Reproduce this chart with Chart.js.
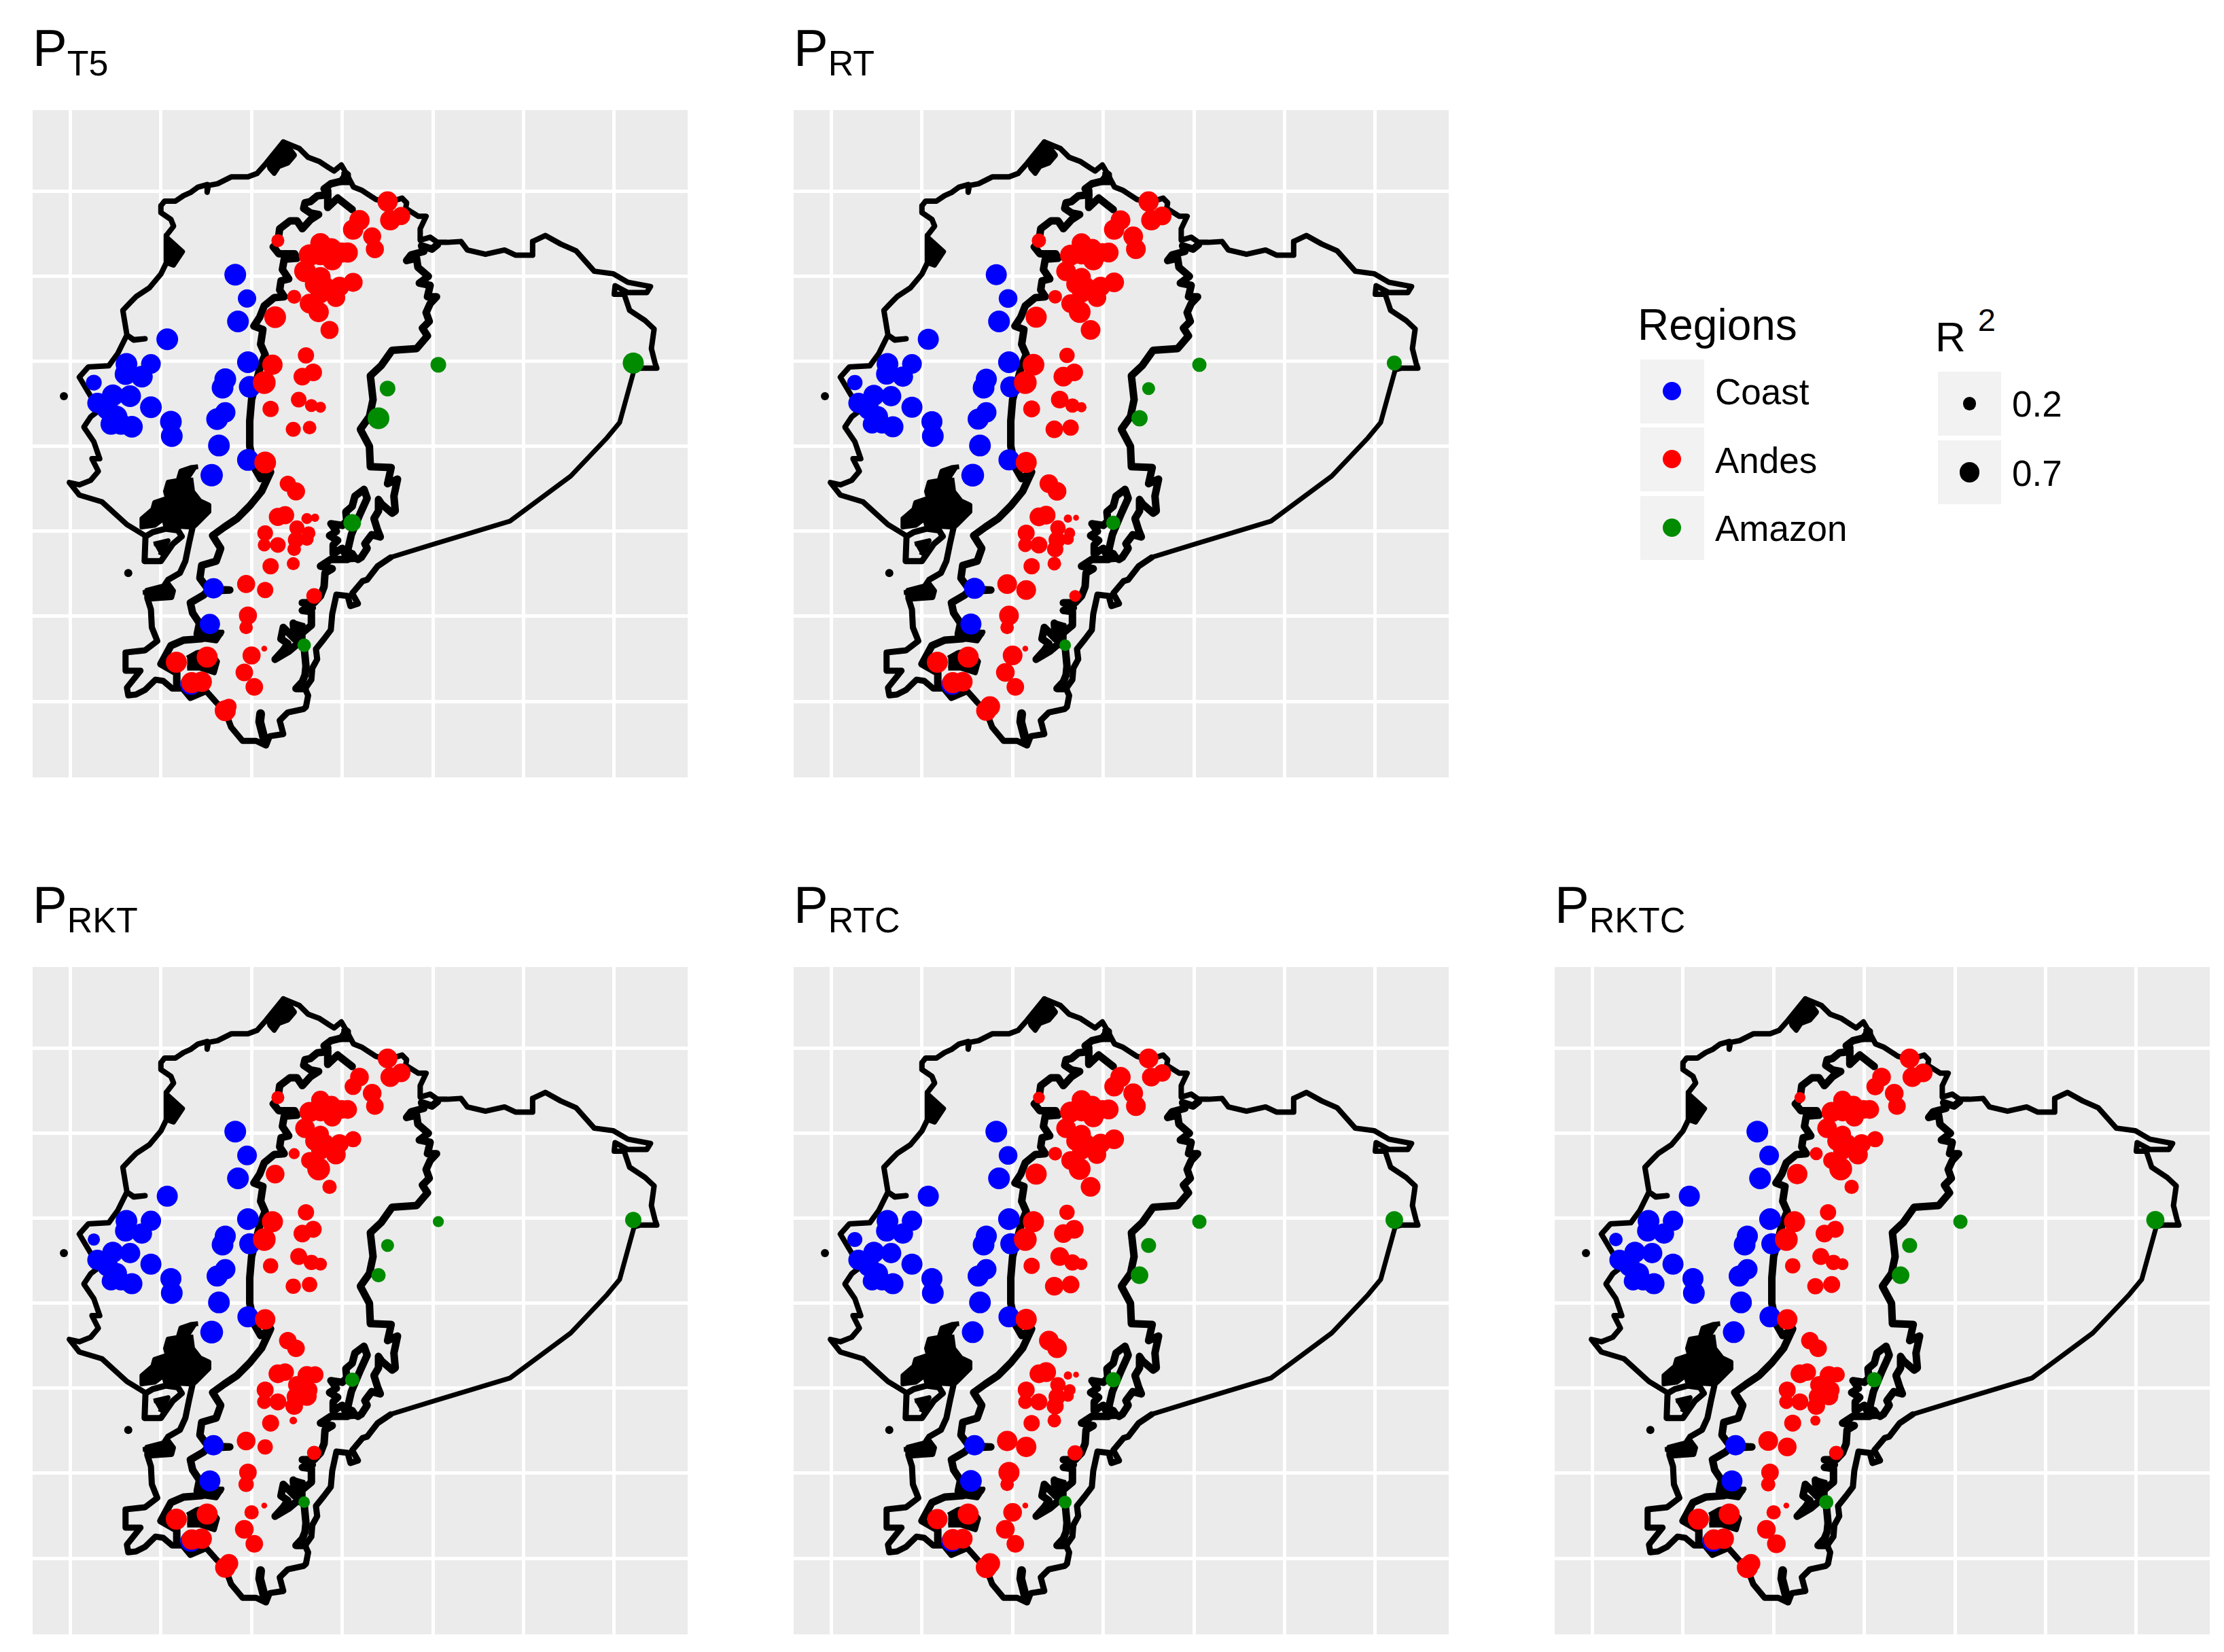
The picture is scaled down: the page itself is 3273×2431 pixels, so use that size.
<!DOCTYPE html>
<html><head><meta charset="utf-8">
<script src="https://cdn.jsdelivr.net/npm/chart.js@4"></script>
<style>
html,body{margin:0;padding:0;background:#fff;width:3273px;height:2431px;overflow:hidden;font-family:"Liberation Sans",Arial,sans-serif;color:#000}
canvas{position:absolute;display:block}
.t{position:absolute;line-height:1;white-space:nowrap}
.k{position:absolute;background:#F2F2F2}
.d{position:absolute;border-radius:50%}
</style></head><body>
<script>
// Panel titles (label, subscript)
const panelSubs=["T5","RT","RKT","RTC","RKTC"];
const regionNames=["Coast","Andes","Amazon"];
const r2Labels=["0.2","0.7"];
const r2Values=[0.2,0.7];
const lonTicks=[-81,-80,-79,-78,-77,-76,-75];
const latTicks=[1,0,-1,-2,-3,-4,-5];

// Stations: longitude, latitude
const coastLon=[-79.18,-79.05,-79.15,-79.93,-80.38,-80.11,-80.39,-80.21,-80.74,-79.04,-79.29,-79.32,-79.02,-80.53,-80.34,-80.70,-80.11,-80.59,-80.49,-80.55,-80.32,-80.44,-79.89,-79.88,-79.29,-79.38,-79.36,-79.04,-79.44,-79.42,-79.46,-79.67];
const coastLat=[0.02,-0.26,-0.53,-0.74,-1.03,-1.03,-1.15,-1.18,-1.25,-1.01,-1.21,-1.31,-1.30,-1.40,-1.41,-1.49,-1.54,-1.56,-1.65,-1.74,-1.77,-1.74,-1.71,-1.88,-1.60,-1.68,-1.99,-2.16,-2.34,-3.67,-4.09,-4.80];
const andesLon=[-77.50,-77.35,-77.47,-77.81,-77.88,-77.67,-77.64,-78.71,-78.24,-78.12,-77.94,-78.36,-78.24,-78.11,-78.01,-78.41,-78.24,-77.88,-78.30,-78.03,-78.19,-78.24,-78.07,-78.53,-78.36,-78.26,-78.14,-78.74,-78.40,-78.77,-78.32,-78.44,-78.86,-78.48,-78.34,-78.24,-78.79,-78.54,-78.36,-78.85,-78.60,-78.51,-78.71,-78.63,-78.39,-78.30,-78.50,-78.37,-78.85,-78.39,-78.51,-78.86,-78.71,-78.53,-78.79,-78.54,-79.06,-78.85,-78.31,-79.04,-79.06,-78.86,-79.00,-79.49,-79.83,-79.08,-79.55,-79.66,-78.97,-79.29,-79.25];
const andesLat=[0.88,0.71,0.66,0.66,0.55,0.47,0.32,0.42,0.39,0.33,0.28,0.25,0.25,0.19,0.28,0.06,-0.01,-0.07,-0.09,-0.12,-0.12,-0.20,-0.25,-0.24,-0.32,-0.42,-0.63,-0.48,-0.93,-1.04,-1.13,-1.18,-1.25,-1.45,-1.52,-1.54,-1.56,-1.80,-1.78,-2.19,-2.44,-2.53,-2.83,-2.81,-2.85,-2.84,-2.96,-3.02,-3.02,-3.09,-3.10,-3.16,-3.16,-3.21,-3.41,-3.38,-3.62,-3.69,-3.76,-3.99,-4.13,-4.38,-4.46,-4.48,-4.54,-4.66,-4.77,-4.78,-4.83,-5.11,-5.06];
const amazonLon=[-76.94,-77.50,-77.60,-77.89,-74.79,-78.42];
const amazonLat=[-1.04,-1.32,-1.67,-2.90,-1.02,-4.34];

// R2 by panel
const coastT5=[.84,.52,.84,.84,.84,.64,.84,.84,.33,.84,.84,.84,.84,.84,.84,.70,.84,.84,.84,.77,.84,.77,.84,.84,.70,.84,.84,.84,.91,.70,.70,.77];
const coastRT=[.77,.55,.84,.77,.84,.64,.77,.70,.30,.84,.77,.84,.77,.77,.70,.70,.77,.77,.77,.55,.77,.55,.77,.84,.70,.77,.84,.77,.95,.77,.77,.77];
const coastRKT=[.84,.64,.84,.77,.84,.70,.77,.70,.14,.84,.77,.84,.77,.77,.70,.70,.77,.77,.77,.55,.77,.55,.77,.84,.70,.77,.84,.77,.95,.70,.77,.77];
const coastRTC=[.84,.55,.84,.77,.84,.70,.77,.70,.28,.84,.77,.84,.77,.77,.70,.70,.77,.77,.77,.55,.77,.55,.77,.84,.70,.77,.84,.77,.84,.70,.84,.77];
const coastRKTC=[.84,.64,.84,.77,.84,.70,.77,.70,.20,.84,.77,.84,.77,.77,.70,.70,.77,.77,.77,.55,.77,.55,.77,.84,.70,.77,.84,.77,.84,.70,.77,.77];
const andesT5=[.70,.50,.70,.70,.70,.50,.50,.17,.70,.70,.70,.84,.70,.70,.70,.84,.70,.58,.70,.64,.64,.64,.55,.22,.64,.70,.50,.84,.36,.70,.46,.46,.95,.32,.17,.09,.36,.28,.20,.84,.36,.50,.50,.50,.09,.02,.28,.20,.32,.20,.36,.17,.32,.20,.36,.17,.50,.36,.32,.50,.20,.00,.50,.77,.77,.46,.70,.77,.46,.77,.30];
const andesRT=[.70,.55,.70,.64,.70,.64,.64,.24,.64,.55,.64,.77,.55,.70,.55,.64,.55,.64,.64,.64,.55,.55,.55,.20,.55,.84,.64,.77,.30,.84,.46,.64,.95,.46,.24,.06,.41,.46,.36,.77,.55,.55,.55,.55,.02,.00,.30,.09,.41,.12,.41,.24,.41,.36,.36,.20,.64,.64,.12,.64,.20,.00,.64,.77,.77,.55,.64,.77,.46,.70,.70];
const andesRKT=[.64,.55,.64,.55,.41,.55,.46,.17,.55,.55,.55,.70,.55,.55,.55,.64,.41,.36,.64,.55,.55,.55,.64,.09,.41,.95,.24,.55,.36,.77,.41,.46,.95,.41,.30,.17,.30,.30,.30,.70,.46,.46,.55,.46,.55,.41,.46,.46,.41,.64,.55,.24,.41,.46,.41,.01,.55,.30,.24,.46,.30,.00,.24,.77,.77,.55,.70,.70,.46,.70,.55];
const andesRTC=[.64,.46,.55,.70,.64,.64,.64,.12,.64,.55,.64,.77,.55,.70,.55,.64,.55,.64,.64,.64,.55,.55,.55,.20,.55,.84,.64,.77,.30,.77,.55,.55,.95,.55,.36,.12,.36,.55,.46,.77,.64,.64,.55,.64,.02,.00,.30,.12,.41,.12,.41,.24,.41,.41,.36,.20,.70,.70,.30,.77,.20,.00,.55,.77,.70,.55,.64,.77,.46,.77,.70];
const andesRKTC=[.64,.55,.64,.55,.46,.55,.46,.09,.55,.55,.55,.70,.55,.55,.55,.64,.41,.36,.64,.55,.55,.55,.64,.17,.41,.95,.24,.70,.36,.77,.41,.46,.95,.41,.30,.12,.30,.36,.41,.70,.46,.46,.55,.46,.55,.30,.46,.46,.41,.55,.55,.24,.41,.46,.41,.06,.64,.55,.24,.46,.24,.00,.24,.77,.77,.55,.70,.70,.55,.77,.55];
const amazonT5=[.32,.32,.84,.46,.77,.20];
const amazonRT=[.24,.17,.36,.24,.28,.11];
const amazonRKT=[.09,.17,.24,.24,.36,.11];
const amazonRTC=[.24,.28,.46,.28,.46,.17];
const amazonRKTC=[.24,.28,.46,.28,.50,.24];

// Map outlines: lon, lat pairs
const westCoast=[-78.65,1.58,-78.84,1.33,-78.94,1.21,-79.04,1.17,-79.225,1.17,-79.375,1.09,-79.475,1.07,-79.49,.99,-79.49,1.08,-79.59,1.05,-79.675,.985,-79.75,.95,-79.84,.885,-79.96,.885,-80.00,.83,-80.00,.75,-79.89,.67,-79.86,.59,-79.94,.48,-79.94,.16,-80.00,.027,-80.125,-.133,-80.27,-.235,-80.33,-.30,-80.42,-.40,-80.375,-.69,-80.30,-.745,-80.175,-.735,-80.30,-.75,-80.375,-.69,-80.475,-.906,-80.575,-1.053,-80.80,-1.066,-80.90,-1.186,-80.775,-1.41,-80.65,-1.55,-80.775,-1.653,-80.85,-1.773,-80.74,-1.946,-80.675,-2.146,-80.76,-2.146,-80.69,-2.293,-80.775,-2.40,-80.90,-2.453,-81.01,-2.426,-80.90,-2.573,-80.65,-2.653,-80.375,-2.92,-80.175,-3.05];
const gulfLoop=[-80.17,-3.06,-80.18,-3.35,-80.00,-3.35,-79.87,-3.15,-79.77,-3.06,-79.81,-2.99,-79.95,-2.97,-80.09,-3.01,-80.17,-3.06];
const gulfIsland=[-80.08,-3.15,-79.92,-3.11,-80.01,-3.28];
const gulfBlob=[-79.59,-2.24,-79.67,-2.25,-79.78,-2.29,-79.81,-2.40,-79.92,-2.42,-79.95,-2.53,-79.93,-2.61,-80.07,-2.66,-80.09,-2.74,-80.21,-2.85,-80.21,-2.95,-80.07,-2.93,-79.97,-2.85,-79.95,-2.93,-79.67,-2.95,-79.62,-2.93,-79.47,-2.77,-79.47,-2.69,-79.57,-2.64,-79.62,-2.57,-79.65,-2.53,-79.67,-2.37];
const southLine=[-79.65,-2.95,-79.69,-3.14,-79.73,-3.35,-79.79,-3.49,-79.92,-3.57,-79.97,-3.65,-80.15,-3.70,-80.15,-3.785,-80.11,-3.92,-80.10,-4.13,-80.04,-4.29,-80.175,-4.40,-80.26,-4.41,-80.39,-4.425,-80.39,-4.64,-80.225,-4.64,-80.375,-4.84,-80.36,-4.93,-80.275,-4.92,-80.175,-4.865,-80.06,-4.745,-79.975,-4.76,-79.875,-4.85,-79.76,-4.85,-79.675,-4.96,-79.50,-4.88,-79.40,-5.00,-79.29,-5.12,-79.225,-5.305,-79.10,-5.465,-78.95,-5.465,-78.84,-5.52,-78.80,-5.41,-78.65,-5.385,-78.69,-5.225,-78.60,-5.13,-78.425,-5.09,-78.40,-5.065,-78.376,-4.93,-78.41,-4.85,-78.34,-4.745,-78.33,-4.61,-78.276,-4.505,-78.29,-4.385,-78.20,-4.265,-78.126,-4.16,-78.11,-3.97,-78.064,-3.745,-77.94,-3.76,-77.91,-3.88,-77.826,-3.85,-77.89,-3.73,-77.776,-3.585,-77.726,-3.57,-77.61,-3.41,-77.465,-3.306];
const zamoraLine=[-78.42,-4.36,-78.40,-4.585,-78.41,-4.69,-78.44,-4.77,-78.51,-4.85,-78.41,-4.85];
const longEast=[-77.465,-3.306,-76.977,-3.146,-76.15,-2.88,-75.48,-2.35,-75.08,-1.90,-74.94,-1.72,-74.78,-1.10];
const northEast=[-74.78,-1.10,-74.71,-1.08,-74.53,-1.08,-74.55,-1.02,-74.59,-.85,-74.56,-.62,-74.66,-.52,-74.83,-.40,-74.89,-.21,-75.00,-.21,-74.99,-.11,-74.85,-.19,-74.64,-.19,-74.60,-.12,-74.85,-.07,-75.01,.03,-75.22,.06,-75.42,.30,-75.59,.38,-75.76,.48,-75.90,.41,-75.90,.25,-76.09,.25,-76.21,.31,-76.42,.26,-76.62,.31,-76.69,.41,-76.84,.40,-76.95,.40,-77.03,.46,-77.14,.426,-77.14,.56,-77.075,.706,-77.16,.706,-77.30,.80,-77.29,.866,-77.34,.92,-77.50,.866,-77.63,.906,-77.78,1.01,-77.875,1.05,-77.95,1.20,-78.01,1.31,-78.09,1.24,-78.15,1.28,-78.25,1.35,-78.375,1.40,-78.475,1.505,-78.65,1.58];
const peakWedge=[-78.625,1.57,-78.525,1.425,-78.60,1.33,-78.70,1.29,-78.75,1.21,-78.80,1.27,-78.825,1.36];
const westWedge=[-79.925,.45,-79.76,.29,-79.86,.13,-79.94,.16];
const westAndes=[-77.95,1.20,-78.01,1.12,-78.125,1.09,-78.20,1.03,-78.16,.96,-78.275,.946,-78.35,.88,-78.41,.866,-78.425,.80,-78.35,.746,-78.26,.728,-78.35,.666,-78.44,.56,-78.50,.653,-78.575,.653,-78.69,.56,-78.70,.48,-78.71,.40,-78.76,.346,-78.70,.266,-78.525,.266,-78.50,.213,-78.64,.20,-78.66,.08,-78.59,-.03,-78.675,-.053,-78.69,-.16,-78.64,-.24,-78.75,-.25,-78.86,-.346,-78.91,-.48,-78.975,-.586,-78.875,-.626,-78.90,-.80,-78.85,-.92,-78.90,-1.05,-79.00,-1.45,-79.02,-1.70,-79.02,-2.00,-78.97,-2.25,-78.90,-2.38,-78.79,-2.30,-78.89,-2.53,-79.02,-2.70,-79.16,-2.85,-79.30,-2.95,-79.43,-3.05,-79.34,-3.20,-79.39,-3.35,-79.55,-3.40,-79.57,-3.55,-79.48,-3.68,-79.24,-3.69,-79.48,-3.70,-79.53,-3.75,-79.675,-3.84,-79.65,-3.96,-79.575,-4.08,-79.60,-4.21,-79.35,-4.20,-79.56,-4.265,-79.75,-4.28,-79.89,-4.345,-80.00,-4.56,-79.825,-4.665,-79.825,-4.80];
const lojaBlock=[-79.71,-4.49,-79.60,-4.425,-79.475,-4.40,-79.375,-4.53,-79.41,-4.665,-79.575,-4.61,-79.71,-4.61];
const underBlue=[-79.56,-4.225,-79.325,-4.185,-79.39,-4.29,-79.56,-4.265];
const jeliBlock=[-80.20,-3.72,-79.98,-3.70,-79.93,-3.60,-79.86,-3.70,-79.88,-3.78,-80.15,-3.80];
const junctionBlock=[-78.01,1.20,-77.93,1.20,-77.93,1.10,-78.03,1.10];
const eastAndes=[-76.95,.373,-77.01,.32,-77.125,.36,-77.10,.293,-77.24,.253,-77.29,.186,-77.18,.213,-77.165,.106,-77.05,0,-77.15,-.08,-77.03,-.106,-77.06,-.24,-76.96,-.24,-77.03,-.32,-77.075,-.426,-77.04,-.53,-77.115,-.61,-77.06,-.70,-77.18,-.85,-77.45,-.87,-77.57,-1.05,-77.69,-1.17,-77.66,-1.45,-77.70,-1.65,-77.80,-1.80,-77.70,-2.00,-77.69,-2.24,-77.46,-2.25,-77.50,-2.44,-77.39,-2.386,-77.43,-2.586,-77.415,-2.76,-77.45,-2.786,-77.565,-2.68,-77.60,-2.626,-77.60,-2.76,-77.65,-2.85,-77.61,-2.986,-77.58,-3.066,-77.675,-3.04,-77.75,-3.146,-77.725,-3.20,-77.79,-3.306,-77.825,-3.33,-77.875,-3.306,-77.94,-3.226,-77.90,-3.04,-77.80,-2.786,-77.725,-2.61,-77.76,-2.506,-77.86,-2.586,-77.89,-2.706,-77.96,-2.77,-77.95,-2.88,-78.00,-2.93,-78.125,-2.91,-78.064,-3.00,-78.14,-3.05,-78.05,-3.106,-78.10,-3.16,-78.10,-3.265,-78.00,-3.20,-77.94,-3.33,-78.125,-3.33,-78.24,-3.41,-78.11,-3.44,-78.19,-3.49,-78.20,-3.65,-78.24,-3.76,-78.31,-3.84,-78.44,-3.84,-78.33,-3.90,-78.44,-3.93,-78.34,-3.945,-78.34,-4.105,-78.43,-4.185,-78.54,-4.08,-78.526,-4.265,-78.65,-4.13,-78.676,-4.265,-78.60,-4.32,-78.65,-4.40,-78.74,-4.505,-78.59,-4.41,-78.49,-4.32,-78.42,-4.36];
const zamoraBlock=[-78.56,-4.065,-78.43,-4.105,-78.43,-4.265,-78.51,-4.29,-78.55,-4.185];
const amazonBlock=[-78.00,-3.20,-77.88,-3.25,-77.83,-3.33,-78.00,-3.34];
const bottomSpike=[-78.90,-5.145,-78.91,-5.24,-78.875,-5.385,-78.85,-5.49];
const northSpike=[-78.16,1.01,-78.16,.81,-78.05,.92,-77.89,.786];
const islandLon=[-81.07,-80.36];
const islandLat=[-1.41,-3.49];

const strokes=[[westCoast,8],[northEast,8],[gulfLoop,9],[southLine,9],[westAndes,11],[eastAndes,11],[zamoraLine,11],[bottomSpike,13],[northSpike,11],[longEast,7]];
const fills=[gulfBlob,gulfIsland,peakWedge,westWedge,lojaBlock,underBlue,jeliBlock,junctionBlock,zamoraBlock,amazonBlock];

const coastByPanel=[coastT5,coastRT,coastRKT,coastRTC,coastRKTC];
const andesByPanel=[andesT5,andesRT,andesRKT,andesRTC,andesRKTC];
const amazonByPanel=[amazonT5,amazonRT,amazonRKT,amazonRTC,amazonRKTC];
const panelBoxes=[[48,162],[1168,162],[48,1423],[1168,1423],[2288,1423]];
const panelW=964, panelH=982;

const radiusOf=v=>(8.55+25.6*Math.sqrt(v))/2;
const pairs=a=>{const o=[];for(let i=0;i<a.length;i+=2)o.push({x:a[i],y:a[i+1]});return o;};
const zip=(xs,ys)=>xs.map((x,i)=>({x,y:ys[i]}));
const panelBg={id:'panelBg',beforeDraw(ch){const a=ch.chartArea;ch.ctx.save();ch.ctx.fillStyle='#EBEBEB';ch.ctx.fillRect(a.left,a.top,a.right-a.left,a.bottom-a.top);ch.ctx.restore();}};

function pointSet(name,lon,lat,vals,color,order){
  return {label:name,data:zip(lon,lat),showLine:false,order,
    backgroundColor:color,borderColor:color,pointBackgroundColor:color,pointBorderWidth:0,
    pointStyle:'circle',pointRadius:vals.map(radiusOf)};
}
function buildPanel(i){
  const c=document.createElement('canvas');
  c.width=panelW;c.height=panelH;
  c.style.left=panelBoxes[i][0]+'px';c.style.top=panelBoxes[i][1]+'px';
  c.style.width=panelW+'px';c.style.height=panelH+'px';
  document.body.appendChild(c);
  const ds=[];
  strokes.forEach(([s,w])=>ds.push({data:pairs(s),showLine:true,order:10,borderColor:'#000',borderWidth:w,pointRadius:0,
    borderJoinStyle:'round',borderCapStyle:'round',tension:0,fill:false}));
  fills.forEach(s=>ds.push({data:pairs(s),showLine:true,order:11,borderColor:'#000',borderWidth:7,pointRadius:0,
    borderJoinStyle:'round',backgroundColor:'#000',fill:'shape',tension:0}));
  ds.push({data:zip(islandLon,islandLat),showLine:false,order:9,pointRadius:6,pointBorderWidth:0,pointBackgroundColor:'#000'});
  ds.push(pointSet(regionNames[0],coastLon,coastLat,coastByPanel[i],'#0000FF',3));
  ds.push(pointSet(regionNames[1],andesLon,andesLat,andesByPanel[i],'#FF0000',2));
  ds.push(pointSet(regionNames[2],amazonLon,amazonLat,amazonByPanel[i],'#008B00',1));
  const axis=(min,max,ticks)=>({type:'linear',min,max,
    afterBuildTicks:a=>{a.ticks=ticks.map(v=>({value:v}));},
    ticks:{display:false},border:{display:false},
    grid:{color:'#FFFFFF',lineWidth:5,drawTicks:false,drawOnChartArea:true}});
  new Chart(c,{type:'scatter',plugins:[panelBg],data:{datasets:ds},options:{
    responsive:false,animation:false,devicePixelRatio:1,
    layout:{padding:0,autoPadding:false},
    plugins:{legend:{display:false},tooltip:{enabled:false},title:{display:false}},
    scales:{x:axis(-81.415,-74.19,lonTicks),y:axis(-5.895,1.956,latTicks)}
  }});
}
function text(x,base,size,html){
  const d=document.createElement('div');d.className='t';
  d.style.left=x+'px';d.style.top=(base-0.8465*size)+'px';d.style.fontSize=size+'px';d.innerHTML=html;
  document.body.appendChild(d);return d;
}
function box(cls,x,y,w,h,bg){
  const d=document.createElement('div');d.className=cls;
  d.style.cssText+=`left:${x}px;top:${y}px;width:${w}px;height:${h}px;`+(bg?`background:${bg};`:'');
  document.body.appendChild(d);
}
panelSubs.forEach((s,i)=>{
  buildPanel(i);
  const ox=panelBoxes[i][0]-48, oy=i>1?1261:0;
  text(48+ox,97+oy,76,`P<span style="font-size:52px;position:relative;top:14.5px">${s}</span>`);
});
// Legends
text(2410,500,64,'Regions');
const regionColors=['#0000FF','#FF0000','#008B00'];
[[529,595],[629,696],[730,796]].forEach((r,i)=>{
  box('k',2414,r[0],94,94);
  box('d',2447,r[0]+33,27,27,regionColors[i]);
  text(2524,r[1],53,regionNames[i]);
});
text(2848,517.5,62,'R<span style="font-size:47px;position:relative;top:-30px;margin-left:18px">2</span>');
[[547,613],[648,715]].forEach((r,i)=>{
  const dia=2*radiusOf(r2Values[i]);
  box('k',2852,r[0],93,94);
  box('d',2898.5-dia/2,r[0]+47-dia/2,dia,dia,'#000');
  text(2961,r[1],53,r2Labels[i]);
});
</script>
</body></html>
